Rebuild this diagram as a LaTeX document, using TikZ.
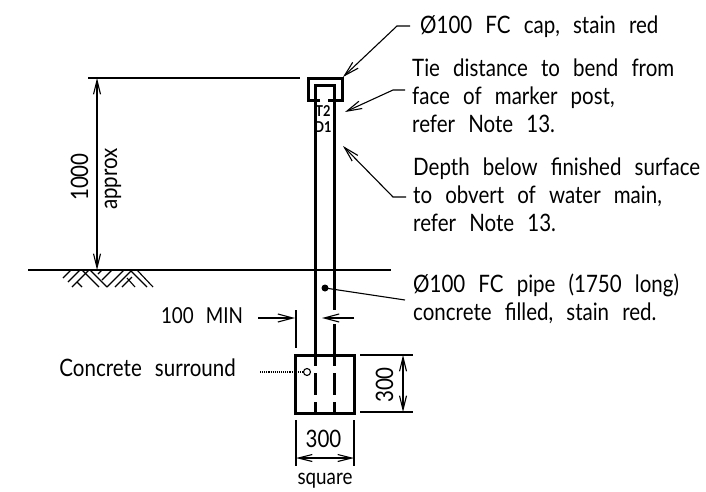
\documentclass[tikz,border=0pt]{standalone}
\usepackage{fontspec}
\setmainfont[FakeStretch=0.855,WordSpace=2.5]{Lato}
\usetikzlibrary{arrows.meta}
\tikzset{
    thick line/.style={line width=3pt},
    thin line/.style={line width=1.1pt},
    dim/.style={thin line, {Straight Barb[length=14pt,width=7pt]}-{Straight Barb[length=14pt,width=7pt]}},
    leader/.style={thin line, -{Straight Barb[length=15pt,width=8pt]}},
    note/.style={inner sep=0pt, anchor=west, align=left, font=\fontsize{24}{28}\selectfont},
    lbl/.style={inner sep=0pt, font=\fontsize{24}{24}\selectfont},
}
\begin{document}
\begin{tikzpicture}[x=1pt,y=-1pt]
    \useasboundingbox (0,0) rectangle (706,492);
    \fill[white] (0,0) rectangle (706,492);

    % cap, post and block
    \coordinate (capgapl) at (320,101);
    \coordinate (capgapr) at (328,101);
    \draw[thick line] (capgapl) -- (308.5,101) -- (308.5,78.5) -- (342,78.5) -- (342,101) -- (capgapr);
    \draw[thick line] (315,102) -- (315,86) -- (334,86) -- (334,102);
    \node[lbl, font=\fontsize{15}{15}\selectfont\bfseries] (tie) at (323,111) {T2};
    \node[lbl, font=\fontsize{15}{15}\selectfont\bfseries] (depth) at (323,127) {D1};
    \draw[thick line] (315,102) -- (315,366);
    \draw[thick line] (334,102) -- (334,310);
    \draw[thick line] (334,324) -- (334,366);
    \draw[thick line] (315,373) -- (315,395); \draw[thick line] (334,373) -- (334,395);
    \draw[thick line] (315,402) -- (315,412); \draw[thick line] (334,402) -- (334,412);
    \draw[thick line] (295,355) rectangle (354,413);

    % ground
    \coordinate (gndl) at (28,270);
    \coordinate (gndr) at (391,270);
    \draw[thin line] (gndl) -- (gndr);
    \draw[thin line] (63,278) -- (71,270); \draw[thin line] (68,282) -- (80,270); \draw[thin line] (72,287) -- (89,270);
    \draw[thin line] (77,282) -- (82,287); \draw[thin line] (82,270) -- (99,287); \draw[thin line] (90,270) -- (107,287);
    \draw[thin line] (107,287) -- (124,270); \draw[thin line] (102,280) -- (112,270); \draw[thin line] (98,274) -- (102,270);
    \draw[thin line] (115,287) -- (132,270); \draw[thin line] (122,287) -- (132,277);
    \draw[thin line] (130,270) -- (147,287); \draw[thin line] (137,270) -- (153,287); \draw[thin line] (127,278) -- (135,287);

    % 1000 approx
    \coordinate (topl) at (88,78);
    \coordinate (topr) at (300,78);
    \coordinate (dimtop) at (97,78);
    \coordinate (dimbot) at (97,270);
    \draw[thin line] (topl) -- (topr);
    \draw[dim] (dimtop) -- (dimbot);
    \node[lbl, rotate=90, anchor=base] (thou) at (88,177) {1000};
    \node[lbl, rotate=90, anchor=base] (apx) at (117,179) {approx};

    % 100 MIN
    \node[lbl, font=\fontsize{22}{22}\selectfont] (min) at (202,316) {100\ MIN};
    \coordinate (minl) at (258,318);
    \coordinate (mina) at (295,318);
    \coordinate (minb) at (322,318);
    \coordinate (minr) at (354,318);
    \draw[thin line] (296,310) -- (296,348);
    \draw[leader] (minl) -- (mina);
    \draw[leader] (minr) -- (minb);

    % 300 dimensions
    \draw[thin line] (360,355) -- (413,355);
    \draw[thin line] (360,412) -- (413,412);
    \coordinate (vtop) at (403,355);
    \coordinate (vbot) at (403,412);
    \draw[dim] (vtop) -- (vbot);
    \node[lbl, rotate=90, anchor=base] (high) at (393,385) {300};
    \draw[thin line] (296,420) -- (296,466);
    \draw[thin line] (354,420) -- (354,466);
    \coordinate (hl) at (296,458);
    \coordinate (hr) at (354,458);
    \draw[dim] (hl) -- (hr);
    \node[lbl, anchor=base] (wide) at (323.5,447) {300};
    \node[lbl, font=\fontsize{22}{22}\selectfont] (sq) at (325,481) {square};

    % notes
    \node[note] (capnote) at (420,27) {Ø100 FC cap, stain red};
    \node[note] (tienote) at (412,96) {Tie distance to bend from\\face of marker post,\\refer Note 13.};
    \node[note] (depnote) at (413,195) {Depth below finished surface\\to obvert of water main,\\refer Note 13.};
    \node[note] (pipenote) at (413,299) {Ø100 FC pipe (1750 long)\\concrete filled, stain red.};
    \node[lbl, anchor=east] (surr) at (236,368) {Concrete surround};

    % leaders
    \coordinate (captip) at (343,77);
    \coordinate (tietip) at (345,112);
    \coordinate (deptip) at (343,146);
    \draw[leader] (410,26) -- (397,26) -- (captip);
    \draw[leader] (405,90) -- (393,90) -- (tietip);
    \draw[leader] (406,197) -- (393,197) -- (deptip);
    \fill (325,288) circle (3.5) coordinate (pipedot);
    \draw[thin line] (pipedot) -- (405,300);
    \node[draw, thin line, fill=white, circle, inner sep=0pt, minimum size=7pt] (surrdot) at (307,372) {};
    \draw[thin line, densely dotted] (260,372) -- (surrdot);
\end{tikzpicture}
\end{document}
